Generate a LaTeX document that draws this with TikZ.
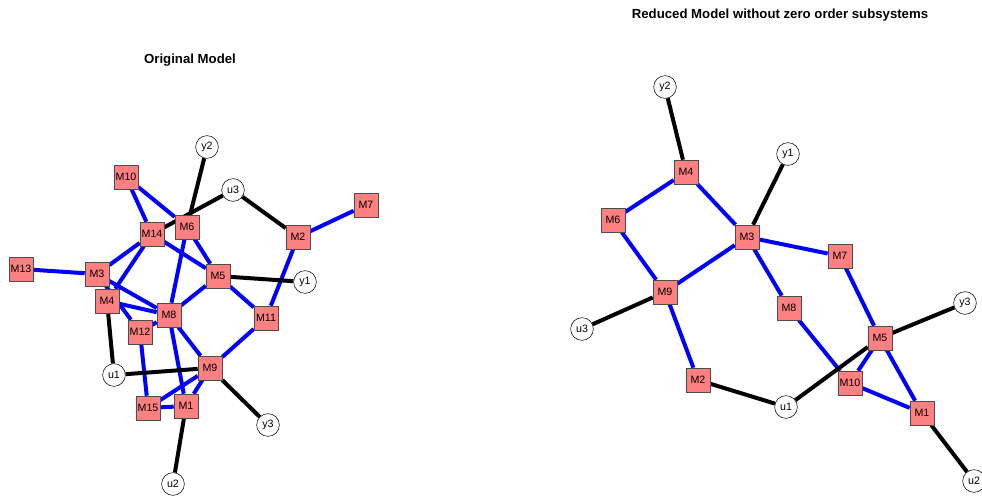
\documentclass[tikz,border=0pt]{standalone}
\usepackage{fontspec}
\setmainfont{Liberation Sans}
\usetikzlibrary{backgrounds}

\tikzset{
  module/.style={draw=black!70, fill=red!50, minimum size=18pt, inner sep=0pt,
                 font=\fontsize{8}{8}\selectfont},
  port/.style={circle, draw=black, fill=white, minimum size=17pt, inner sep=0pt,
               font=\fontsize{8}{8}\selectfont},
  link/.style={blue, line width=3pt},
  wire/.style={black, line width=3pt},
  heading/.style={font=\bfseries\fontsize{9.9}{10}\selectfont},
}

\begin{document}
\begin{tikzpicture}[x=0.75pt,y=-0.75pt]
    \useasboundingbox (0,0) rectangle (982,496);

    % Left graph: the full model
    \node [heading] (otitle) at (190,60) {Original Model};

    \node [module] (oM10) at (126,177) {M10};
    \node [module] (oM14) at (152,234) {M14};
    \node [module] (oM6)  at (187,227) {M6};
    \node [module] (oM7)  at (366,205) {M7};
    \node [module] (oM2)  at (298,237) {M2};
    \node [module] (oM13) at (21,269)  {M13};
    \node [module] (oM3)  at (97,274)  {M3};
    \node [module] (oM5)  at (218,276) {M5};
    \node [module] (oM4)  at (107,301) {M4};
    \node [module] (oM8)  at (169,315) {M8};
    \node [module] (oM11) at (266,318) {M11};
    \node [module] (oM12) at (140,332) {M12};
    \node [module] (oM9)  at (210,368) {M9};
    \node [module] (oM15) at (148,408) {M15};
    \node [module] (oM1)  at (186,406) {M1};

    \node [port] (oy2) at (207,147) {y2};
    \node [port] (ou3) at (233,190) {u3};
    \node [port] (oy1) at (305,282) {y1};
    \node [port] (ou1) at (114,375) {u1};
    \node [port] (oy3) at (268,425) {y3};
    \node [port] (ou2) at (173,484) {u2};

    % Right graph: zero order subsystems removed
    \node [heading] (rtitle) at (780,15) {Reduced Model without zero order subsystems};

    \node [module] (rM4)  at (686,172) {M4};
    \node [module] (rM6)  at (613,220) {M6};
    \node [module] (rM3)  at (747,237) {M3};
    \node [module] (rM7)  at (840,256) {M7};
    \node [module] (rM9)  at (665,292) {M9};
    \node [module] (rM8)  at (789,308) {M8};
    \node [module] (rM5)  at (880,338) {M5};
    \node [module] (rM2)  at (698,380) {M2};
    \node [module] (rM10) at (850,383) {M10};
    \node [module] (rM1)  at (922,413) {M1};

    \node [port] (ry2) at (665,87)  {y2};
    \node [port] (ry1) at (788,154) {y1};
    \node [port] (ru3) at (582,329) {u3};
    \node [port] (ry3) at (965,303) {y3};
    \node [port] (ru1) at (786,407) {u1};
    \node [port] (ru2) at (974,481) {u2};

    \begin{pgfonlayer}{background}
    % couplings between modules
    \draw [link] (oM10) -- (oM14);
    \draw [link] (oM10) -- (oM6);
    \draw [link] (oM14) -- (oM3);
    \draw [link] (oM14) -- (oM4);
    \draw [link] (oM14) -- (oM5);
    \draw [link] (oM6) -- (oM5);
    \draw [link] (oM6) -- (oM8);
    \draw [link] (oM13) -- (oM3);
    \draw [link] (oM3) -- (oM8);
    \draw [link] (oM3) -- (oM12);
    \draw [link] (oM4) -- (oM8);
    \draw [link] (oM12) -- (oM8);
    \draw [link] (oM12) -- (oM15);
    \draw [link] (oM8) -- (oM5);
    \draw [link] (oM8) -- (oM9);
    \draw [link] (oM8) -- (oM1);
    \draw [link] (oM5) -- (oM11);
    \draw [link] (oM11) -- (oM2);
    \draw [link] (oM11) -- (oM9);
    \draw [link] (oM2) -- (oM7);
    \draw [link] (oM9) -- (oM15);
    \draw [link] (oM9) -- (oM1);
    \draw [link] (oM15) -- (oM1);

    % inputs and outputs
    \draw [wire] (oM6) -- (oy2);
    \draw [wire] (oM14) -- (ou3);
    \draw [wire] (ou3) -- (oM2);
    \draw [wire] (oM5) -- (oy1);
    \draw [wire] (oM4) -- (ou1);
    \draw [wire] (ou1) -- (oM9);
    \draw [wire] (oM9) -- (oy3);
    \draw [wire] (oM1) -- (ou2);

    \draw [link] (rM4) -- (rM6);
    \draw [link] (rM4) -- (rM3);
    \draw [link] (rM6) -- (rM9);
    \draw [link] (rM9) -- (rM3);
    \draw [link] (rM3) -- (rM7);
    \draw [link] (rM3) -- (rM8);
    \draw [link] (rM9) -- (rM2);
    \draw [link] (rM8) -- (rM10);
    \draw [link] (rM7) -- (rM5);
    \draw [link] (rM5) -- (rM10);
    \draw [link] (rM5) -- (rM1);
    \draw [link] (rM10) -- (rM1);

    \draw [wire] (ry2) -- (rM4);
    \draw [wire] (ry1) -- (rM3);
    \draw [wire] (ru3) -- (rM9);
    \draw [wire] (rM2) -- (ru1);
    \draw [wire] (ru1) -- (rM5);
    \draw [wire] (rM5) -- (ry3);
    \draw [wire] (rM1) -- (ru2);
    \end{pgfonlayer}
\end{tikzpicture}
\end{document}
